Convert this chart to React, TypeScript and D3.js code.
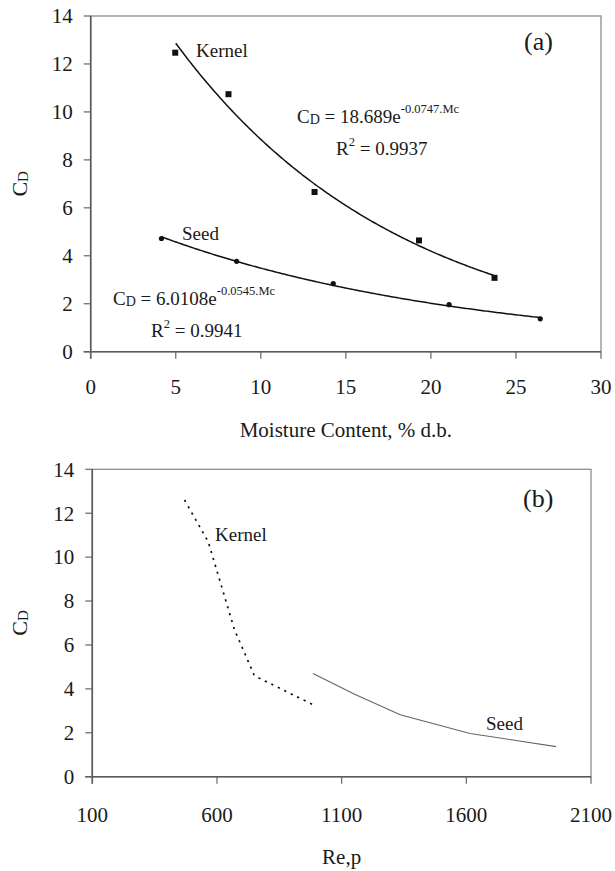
import React, { useEffect, useRef } from "react";
import * as d3 from "d3";

// (a) drag coefficient vs moisture content, % d.b.
const kernelMc = [4.97, 8.1, 13.16, 19.3, 23.74];
const kernelCd = [12.47, 10.74, 6.66, 4.64, 3.08];
const seedMc = [4.16, 8.58, 14.26, 21.07, 26.43];
const seedCd = [4.72, 3.77, 2.84, 1.96, 1.37];

// trend lines as printed on the chart: CD = a * exp(b * Mc)
const kernelFit = { a: 18.689, b: -0.0747, from: 5, to: 23.74 };
const seedFit = { a: 6.0108, b: -0.0545, from: 4.16, to: 26.43 };

// (b) drag coefficient vs particle Reynolds number
const kernelRe = [470, 565, 670, 750, 990];
const kernelReCd = [12.6, 10.7, 6.7, 4.6, 3.25];
const seedRe = [985, 1150, 1335, 1615, 1960];
const seedReCd = [4.7, 3.77, 2.82, 1.97, 1.37];

const cdTicks = [0, 2, 4, 6, 8, 10, 12, 14];
const mcTicks = [0, 5, 10, 15, 20, 25, 30];
const reTicks = [100, 600, 1100, 1600, 2100];

const FONT = "'Liberation Serif', 'Times New Roman', serif";
const INK = "#1a1a1a";

type Part = [string, number, number?];

// text made of pieces with their own size and vertical shift
const richText = (g, x, y, parts: Part[], anchor = "start", transform = null) => {
  const t = g
    .append("text")
    .attr("font-family", FONT)
    .attr("fill", INK)
    .attr("text-anchor", anchor);
  if (transform) t.attr("transform", transform);
  else t.attr("x", x).attr("y", y);
  parts.forEach(([s, size, dy]) => {
    const sp = t.append("tspan").attr("font-size", size).text(s);
    if (dy) sp.attr("dy", dy);
  });
  return t;
};

const drawFrame = (g, x, y, xTicks, xLabelGap) => {
  const [x0, x1] = x.range();
  const [y0, y1] = y.range();

  g.append("rect")
    .attr("x", x0)
    .attr("y", y1)
    .attr("width", x1 - x0)
    .attr("height", y0 - y1)
    .attr("fill", "none")
    .attr("stroke", "#8c8c8c")
    .attr("stroke-width", 1.3);

  g.append("line")
    .attr("x1", x0).attr("x2", x0)
    .attr("y1", y1).attr("y2", y0 + 7)
    .attr("stroke", "#5a5a5a")
    .attr("stroke-width", 1.6);
  g.append("line")
    .attr("x1", x0 - 7).attr("x2", x1)
    .attr("y1", y0).attr("y2", y0)
    .attr("stroke", "#5a5a5a")
    .attr("stroke-width", 1.6);

  g.selectAll(".yt")
    .data(cdTicks)
    .join("line")
    .attr("x1", x0 - 7)
    .attr("x2", x0)
    .attr("y1", (d) => y(d))
    .attr("y2", (d) => y(d))
    .attr("stroke", "#666")
    .attr("stroke-width", 1.2);

  g.selectAll(".yl")
    .data(cdTicks)
    .join("text")
    .attr("x", x0 - 18)
    .attr("y", (d) => y(d))
    .attr("dy", "0.35em")
    .attr("text-anchor", "end")
    .attr("font-family", FONT)
    .attr("font-size", 21)
    .attr("fill", INK)
    .text((d) => d);

  g.selectAll(".xt")
    .data(xTicks)
    .join("line")
    .attr("x1", (d) => x(d))
    .attr("x2", (d) => x(d))
    .attr("y1", y0)
    .attr("y2", y0 + 7)
    .attr("stroke", "#666")
    .attr("stroke-width", 1.2);

  g.selectAll(".xl")
    .data(xTicks)
    .join("text")
    .attr("x", (d) => x(d))
    .attr("y", y0 + xLabelGap)
    .attr("dy", "0.35em")
    .attr("text-anchor", "middle")
    .attr("font-family", FONT)
    .attr("font-size", 21)
    .attr("fill", INK)
    .text((d) => d);

  // CD axis title
  richText(g, 0, 0, [["C", 22], ["D", 15, 1]], "middle",
    `translate(27,${(y0 + y1) / 2}) rotate(-90)`);
};

const fitPoints = (fit) =>
  d3.range(fit.from, fit.to, 0.1).concat([fit.to]).map((m) => [m, fit.a * Math.exp(fit.b * m)]);

const App = () => {
  const ref = useRef(null);

  useEffect(() => {
    const svg = d3.select(ref.current);
    svg.selectAll("*").remove();

    // ---- panel (a)
    const ga = svg.append("g");
    const xa = d3.scaleLinear().domain([0, 30]).range([90.7, 601]);
    const ya = d3.scaleLinear().domain([0, 14]).range([351.7, 16]);
    drawFrame(ga, xa, ya, mcTicks, 35);

    const lineA = d3.line().x((d) => xa(d[0])).y((d) => ya(d[1]));
    ga.append("path")
      .attr("d", lineA(fitPoints(kernelFit)))
      .attr("fill", "none")
      .attr("stroke", "#111")
      .attr("stroke-width", 1.5);
    ga.append("path")
      .attr("d", lineA(fitPoints(seedFit)))
      .attr("fill", "none")
      .attr("stroke", "#111")
      .attr("stroke-width", 1.5);

    ga.selectAll(".kp")
      .data(kernelMc)
      .join("rect")
      .attr("x", (d) => xa(d) - 3)
      .attr("y", (d, i) => ya(kernelCd[i]) - 3)
      .attr("width", 6)
      .attr("height", 6)
      .attr("fill", "#111");
    ga.selectAll(".sp")
      .data(seedMc)
      .join("circle")
      .attr("cx", (d) => xa(d))
      .attr("cy", (d, i) => ya(seedCd[i]))
      .attr("r", 2.6)
      .attr("fill", "#111");

    richText(ga, 196, 57, [["Kernel", 19]]);
    richText(ga, 182, 240, [["Seed", 19]]);
    richText(ga, 297, 123, [
      ["C", 19], ["D", 14, 1], [" = 18.689e", 19, -1], ["-0.0747.Mc", 12.5, -10],
    ]);
    richText(ga, 336, 155, [["R", 19], ["2", 12.5, -9], [" = 0.9937", 19, 9]]);
    richText(ga, 113, 305, [
      ["C", 19], ["D", 14, 1], [" = 6.0108e", 19, -1], ["-0.0545.Mc", 12.5, -10],
    ]);
    richText(ga, 151, 337, [["R", 19], ["2", 12.5, -9], [" = 0.9941", 19, 9]]);
    richText(ga, 524, 50, [["(a)", 26]]);

    richText(ga, (90.7 + 601) / 2, 437, [["Moisture Content, % d.b.", 21]], "middle");

    // ---- panel (b)
    const gb = svg.append("g");
    const xb = d3.scaleLinear().domain([100, 2100]).range([92.3, 591]);
    const yb = d3.scaleLinear().domain([0, 14]).range([776.7, 469.3]);
    drawFrame(gb, xb, yb, reTicks, 38);

    const lineB = d3.line().x((d) => xb(d[0])).y((d) => yb(d[1]));
    gb.append("path")
      .attr("d", lineB(kernelRe.map((r, i) => [r, kernelReCd[i]])))
      .attr("fill", "none")
      .attr("stroke", "#111")
      .attr("stroke-width", 1.7)
      .attr("stroke-dasharray", "2.2,5");
    gb.append("path")
      .attr("d", lineB(seedRe.map((r, i) => [r, seedReCd[i]])))
      .attr("fill", "none")
      .attr("stroke", "#666")
      .attr("stroke-width", 1.1);

    richText(gb, 215, 541, [["Kernel", 19]]);
    richText(gb, 486, 730, [["Seed", 19]]);
    richText(gb, 523, 507, [["(b)", 26]]);

    richText(gb, (92.3 + 591) / 2, 864, [["Re,p", 21]], "middle");
  }, []);

  return (
    <div style={{ position: "absolute", left: 0, top: 0 }}>
      <svg ref={ref} width={615} height={871} style={{ display: "block", background: "#fff" }} />
    </div>
  );
};

export default App;
